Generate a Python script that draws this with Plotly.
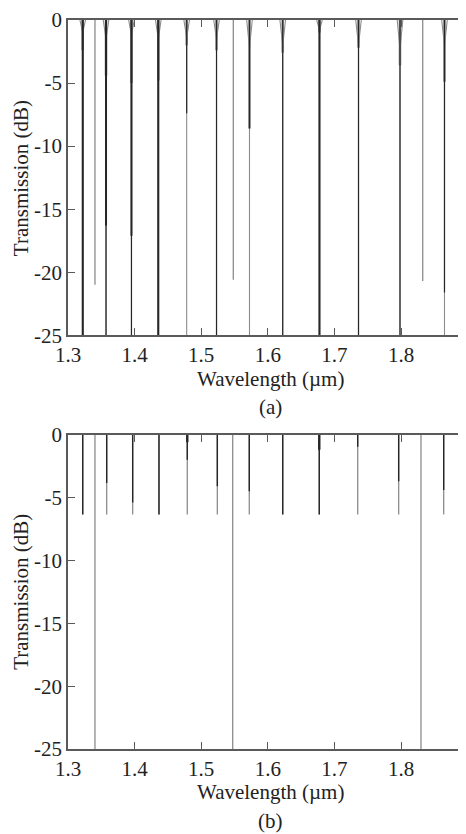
import plotly.graph_objects as go

# ---------------- data ----------------
# Panel (a): main resonances (black, with grey funnel/shoulder)
centers_a = [1.3221, 1.3571, 1.3953, 1.4356, 1.4782, 1.5230, 1.5725, 1.6224, 1.6776, 1.7362, 1.7985, 1.8653]
funnel_a = [-1.0, -1.5, -1.2, -1.5, -1.4, -1.5, -2.2, -2.0, -0.8, -2.0, -2.3, -2.0]
shoulder_a = [-2.4, -4.4, -5.0, -4.8, -2.0, -2.4, -8.6, -2.6, -1.0, -2.2, -3.6, -4.9]
dark_a = [-25, -25, -25, -25, -7.4, -25, -8.6, -25, -25, -25, -25, -21.6]
thick_a = [-25, -16.3, -17.1, -25, 0, 0, 0, 0, -25, 0, 0, 0]
full_a = [-25] * 12
# Panel (a): isolated grey resonances
grey_centers_a = [1.3405, 1.5482, 1.8326]
grey_depth_a = [-21.0, -20.6, -20.7]

# Panel (b)
centers_b = [1.3221, 1.3581, 1.3971, 1.4366, 1.4791, 1.5242, 1.5722, 1.6224, 1.6773, 1.7350, 1.7965, 1.8641]
depth_b = [-6.35] * 12
dark_b = [-6.35, -3.85, -5.4, -6.35, -2.0, -4.1, -4.5, -6.35, -6.35, -0.95, -3.7, -4.4]
thick_b = [0, 0, 0, 0, -0.6, 0, 0, 0, -1.2, 0, 0, 0]
grey_centers_b = [1.3405, 1.5473, 1.8300]
grey_depth_b = [-25, -25, -25]

x_ticks = [1.3, 1.4, 1.5, 1.6, 1.7, 1.8]
x_ticktext = ["1.3", "1.4", "1.5", "1.6", "1.7", "1.8"]
y_ticks = [0, -5, -10, -15, -20, -25]
y_ticktext = ["0", "-5", "-10", "-15", "-20", "-25"]

# ---------------- styles ----------------
BLACK = "#262626"
GREY = "#8c8c8c"
AXIS = "#5a5a5a"
TEXT = "#222222"
FONT = "Liberation Serif"
FUNNEL_HW = 0.0042  # half width of the funnel mouth (um)

# page offset (default 8px body margin)
OFF = 8


def vlines(cs, ds):
    xs, ys = [], []
    for c, d in zip(cs, ds):
        if d == 0:
            continue
        xs += [c, c, None]
        ys += [0, d, None]
    return xs, ys


def funnels(cs, ds):
    xs, ys = [], []
    for c, d in zip(cs, ds):
        xs += [c - FUNNEL_HW, c, c + FUNNEL_HW, None]
        ys += [0, d, 0, None]
    return xs, ys


fig = go.Figure()


def add(xs, ys, color, width, ax):
    fig.add_trace(go.Scatter(x=xs, y=ys, mode="lines", line=dict(color=color, width=width),
                             xaxis="x" + ax, yaxis="y" + ax, showlegend=False,
                             hoverinfo="skip", connectgaps=False))


# panel (a)
add(*vlines(centers_a, full_a), GREY, 1.1, "")
add(*vlines(grey_centers_a, grey_depth_a), GREY, 1.3, "")
add(*vlines(centers_a, shoulder_a), GREY, 2.6, "")
add(*funnels(centers_a, funnel_a), GREY, 1.1, "")
add(*vlines(centers_a, dark_a), BLACK, 1.2, "")
add(*vlines(centers_a, thick_a), BLACK, 2.0, "")

# panel (b)
add(*vlines(centers_b, depth_b), GREY, 1.3, "2")
add(*vlines(grey_centers_b, grey_depth_b), GREY, 1.3, "2")
add(*vlines(centers_b, dark_b), BLACK, 1.4, "2")
add(*vlines(centers_b, thick_b), BLACK, 2.4, "2")

W, H = 466 - OFF, 834 - OFF
ML, MT = 68 - OFF, 16 - OFF
MB = H - (749 - OFF)
plot_h = H - MT - MB
dom_a = [(plot_h - 317) / plot_h, 1]
dom_b = [0, (plot_h - 417) / plot_h]

xrange_ = [1.3, 1.3 + (W - ML) / 666.0]

xcommon = dict(range=xrange_, tickmode="array", tickvals=x_ticks, ticktext=x_ticktext,
               showline=True, linecolor=AXIS, linewidth=1.6, mirror="ticks",
               ticks="inside", ticklen=7, tickwidth=1.4, tickcolor=AXIS,
               showgrid=False, zeroline=False,
               tickfont=dict(family=FONT, size=21, color=TEXT))
ycommon = dict(range=[-25, 0], tickmode="array", tickvals=y_ticks, ticktext=y_ticktext,
               showline=True, linecolor=AXIS, linewidth=1.6, mirror=False,
               ticks="inside", ticklen=7, tickwidth=1.4, tickcolor=AXIS,
               showgrid=False, zeroline=False,
               tickfont=dict(family=FONT, size=21, color=TEXT))

fig.update_layout(
    width=W, height=H,
    margin=dict(l=ML, r=0, t=MT, b=MB),
    paper_bgcolor="white", plot_bgcolor="white",
    font=dict(family=FONT, color=TEXT),
    xaxis=dict(domain=[0, 1], anchor="y", **xcommon),
    yaxis=dict(domain=dom_a, anchor="x", **ycommon),
    xaxis2=dict(domain=[0, 1], anchor="y2", **xcommon),
    yaxis2=dict(domain=dom_b, anchor="x2", **ycommon),
)


def px_to_paper_y(p):
    # p: page pixel
    return (H - MB - (p - OFF)) / plot_h


def px_to_paper_x(p):
    return (p - OFF - ML) / (W - ML)


annots = [
    ("Wavelength (µm)", 270, 377, 0),
    ("(a)", 270, 405, 0),
    ("Wavelength (µm)", 270, 792, 0),
    ("(b)", 270, 821, 0),
    ("Transmission (dB)", 21, 175, -90),
    ("Transmission (dB)", 21, 591, -90),
]
for txt, px, py, ang in annots:
    fig.add_annotation(text=txt, x=px_to_paper_x(px), y=px_to_paper_y(py),
                       xref="paper", yref="paper", showarrow=False, textangle=ang,
                       xanchor="center", yanchor="middle",
                       font=dict(family=FONT, size=21, color=TEXT))

fig.write_html("out.html")
